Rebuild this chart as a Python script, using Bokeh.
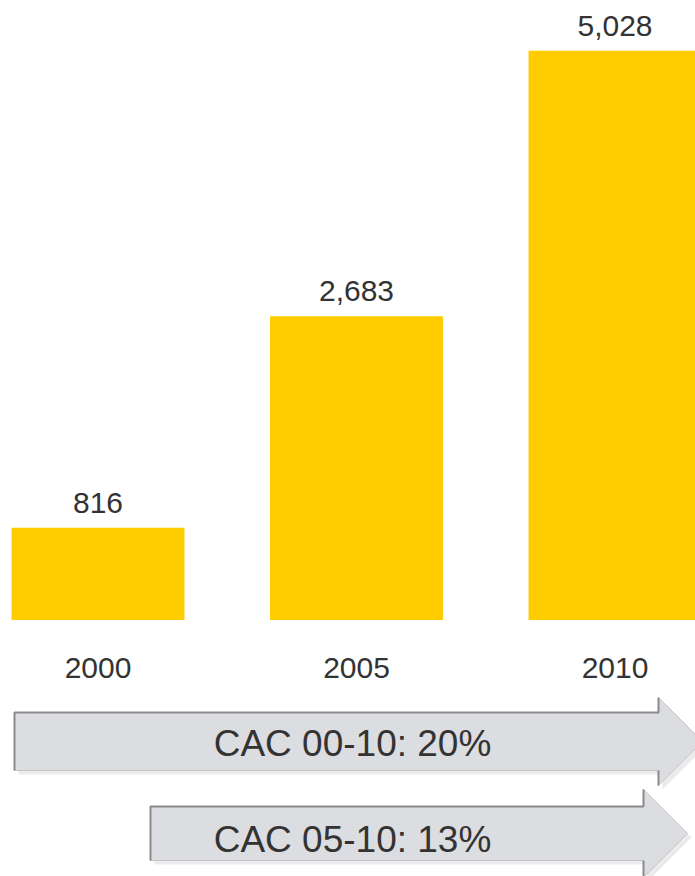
from bokeh.plotting import figure
from bokeh.models import Range1d
from bokeh.core.properties import value
from bokeh.embed import file_html
from bokeh.resources import INLINE

# ---- data ----
years = ["2000", "2005", "2010"]
values = [816, 2683, 5028]
value_labels = ["816", "2,683", "5,028"]
cagr_labels = ["CAC 00-10: 20%", "CAC 05-10: 13%"]

FONT = value("Liberation Sans")
TXT = "#333333"
BAR = "#FFCC00"

W, H = 695, 876
idx = list(range(len(years)))

# pixel layout: bar i centred at 97.5 + 258.5*i, baseline at y=619.5, 0.1132 px per unit
x0 = -97.5 / 258.5
x1 = (W - 97.5) / 258.5
y0 = (619.5 - H) / 0.1132
y1 = 619.5 / 0.1132

p = figure(width=W, height=H, output_backend="svg", toolbar_location=None,
           x_range=Range1d(x0, x1), y_range=Range1d(y0, y1),
           min_border=0, outline_line_color=None, background_fill_color="white")
p.axis.visible = False
p.grid.visible = False
p.extra_x_ranges = {"px": Range1d(0, W)}
p.extra_y_ranges = {"px": Range1d(H, 0)}

# bars
p.vbar(x=idx, top=values, bottom=0, width=0.669, fill_color=BAR, line_color=None)

# value labels
p.text(x=idx, y=values, text=value_labels, text_align="center", text_baseline="alphabetic",
       y_offset=-25, text_font=FONT, text_font_size="30px", text_color=TXT)

# year labels (category axis text)
p.text(x=idx, y=[667.5] * 3, y_range_name="px", text=years, text_align="center",
       text_baseline="alphabetic", text_font=FONT, text_font_size="30px", text_color=TXT)

# ---- CAGR arrows (decoration, in pixel space) ----
def arrow(left, top, bottom, base, head_top):
    mid = (top + bottom) / 2.0
    half = mid - head_top
    tip = base + half
    head_bot = mid + half
    xs = [left, base, base, tip, base, base, left]
    ys = [top, top, head_top, mid, head_bot, bottom, bottom]
    return xs, ys

arrows = [arrow(14, 712, 770, 658, 697), arrow(150, 806, 860, 643, 789)]

for xs, ys in arrows:
    p.patch([x + 4 for x in xs], [y + 4 for y in ys], x_range_name="px", y_range_name="px",
            fill_color="#ebebeb", line_color=None)
for xs, ys in arrows:
    p.patch(xs, ys, x_range_name="px", y_range_name="px",
            fill_color="#dcdde1", line_color="#c4c5c9", line_width=1)
    p.line([xs[6], xs[0], xs[1], xs[2]], [ys[6], ys[0], ys[1], ys[2]],
           x_range_name="px", y_range_name="px", line_color="#8a8a8a", line_width=2)
    p.line([xs[4], xs[5]], [ys[4], ys[5]], x_range_name="px", y_range_name="px",
           line_color="#8a8a8a", line_width=2)

p.text(x=[352, 352], y=[743, 839], x_range_name="px", y_range_name="px",
       text=cagr_labels, text_align="center", text_baseline="alphabetic",
       text_font=FONT, text_font_size="37px", text_color=TXT)

open("out.html", "w").write(file_html(p, INLINE))
